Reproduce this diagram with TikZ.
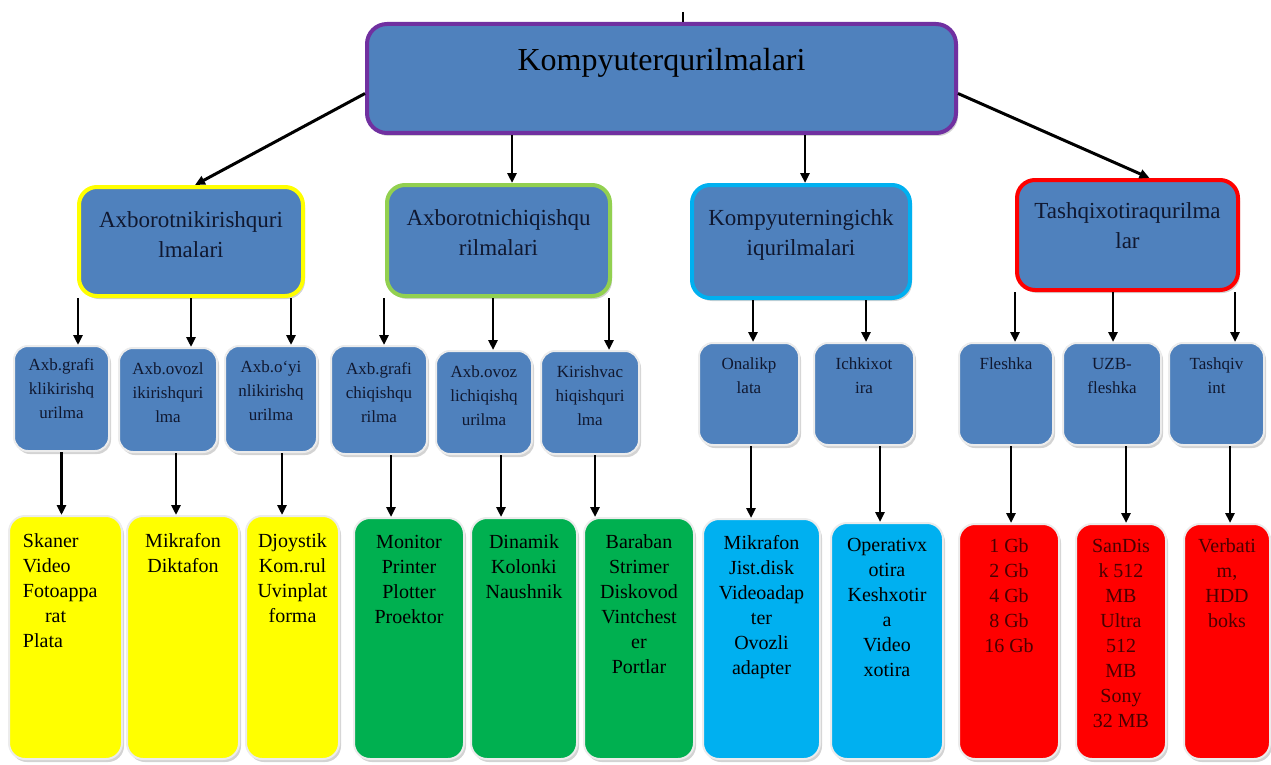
\documentclass[tikz,border=0pt]{standalone}
\usepackage{fontspec}
\setmainfont{Liberation Serif}
\usepackage{xcolor}
\usepackage{tikz}
\usetikzlibrary{positioning}
\usetikzlibrary{arrows.meta}
\usetikzlibrary{shadows}

\definecolor{boxblue}{HTML}{4F81BD}
\definecolor{rootpurple}{HTML}{7030A0}
\definecolor{inyellow}{HTML}{FFFF00}
\definecolor{outgreen}{HTML}{92D050}
\definecolor{devgreen}{HTML}{00B050}
\definecolor{memcyan}{HTML}{00B0F0}
\definecolor{extred}{HTML}{FF0000}
\definecolor{navytext}{HTML}{101830}
\definecolor{redtext}{HTML}{4A0000}

% box text: [alignment]{width}{height}{top gap}{lines}
\newcommand{\boxtext}[5][\centering]{\parbox[c][#3][t]{#2}{\vspace*{#4}#1\strut #5}}

\begin{document}
\begin{tikzpicture}[x=1pt,y=-1pt,
		shade/.style={drop shadow={shadow xshift=2pt,shadow yshift=-3pt,opacity=0.35}},
		rootbox/.style={draw=rootpurple, line width=4pt, fill=boxblue, rounded corners=20pt, inner sep=0pt, shade, text=black, font=\fontsize{32}{38}\selectfont},
		groupbox/.style={line width=4pt, fill=boxblue, rounded corners=18pt, inner sep=0pt, shade, text=navytext, font=\fontsize{23}{30}\selectfont},
		itembox/.style={draw=white!85!gray, line width=2pt, fill=boxblue, rounded corners=14pt, inner sep=0pt, shade, text=navytext, font=\fontsize{17}{24}\selectfont},
		leafbox/.style={draw=white!85!gray, line width=2pt, rounded corners=16pt, inner sep=0pt, shade, text=black, font=\fontsize{20}{25}\selectfont},
		arr/.style={-{Triangle[length=10pt,width=9pt]}, line width=2.5pt}]
		\useasboundingbox (0,0) rectangle (1271,765);

		% Root
		\node[rootbox] (R) at (661.5,78.5) {\boxtext{589pt}{109pt}{20pt}{Kompyuterqurilmalari}};
		\coordinate (tick) at (683,12);
		\draw[line width=2pt] (tick) -- (tick |- R.north);

		% Second level
		\node[groupbox, draw=inyellow] (A1) at (191,241.5) {\boxtext{224pt}{109pt}{19pt}{Axborotnikirishquri\\lmalari}};
		\node[groupbox, draw=outgreen] (A2) at (498.5,240.5) {\boxtext{223pt}{111pt}{19pt}{Axborotnichiqishqu\\rilmalari}};
		\node[groupbox, draw=memcyan] (A3) at (801,241.5) {\boxtext{218pt}{113pt}{19pt}{Kompyuterningichk\\iqurilmalari}};
		\node[groupbox, draw=extred] (A4) at (1127.5,235) {\boxtext{221pt}{110pt}{17pt}{Tashqixotiraqurilma\\lar}};

		\draw[arr, line width=3pt] ([yshift=-15pt]R.west) -- ([xshift=4pt]A1.north);
		\draw[arr, line width=3pt] ([yshift=-15pt]R.east) -- ([xshift=22pt]A4.north);
		\foreach \a/\dx in {A2/13.5, A3/4}
			\draw[arr] ([xshift=\dx pt]\a.north |- R.south) -- ([xshift=\dx pt]\a.north);

		% Third level
		\node[itembox] (B1) at (61.5,398.5) {\boxtext{95pt}{105pt}{8pt}{Axb.grafi\\klikirishq\\urilma}};
		\node[itembox] (B2) at (168,400) {\boxtext{98pt}{104pt}{10pt}{Axb.ovozl\\ikirishquri\\lma}};
		\node[itembox] (B3) at (271,399) {\boxtext{92pt}{106pt}{10pt}{Axb.o`yi\\nlikirishq\\urilma}};
		\node[itembox] (B4) at (379,400) {\boxtext{96pt}{108pt}{12pt}{Axb.grafi\\chiqishqu\\rilma}};
		\node[itembox] (B5) at (484,402.5) {\boxtext{96pt}{103pt}{10pt}{Axb.ovoz\\lichiqishq\\urilma}};
		\node[itembox] (B6) at (590,402.5) {\boxtext{98pt}{103pt}{10pt}{Kirishvac\\hiqishquri\\lma}};
		\node[itembox] (B7) at (749,394) {\boxtext{100pt}{102pt}{10pt}{Onalikp\\lata}};
		\node[itembox] (B8) at (864,394) {\boxtext{100pt}{102pt}{10pt}{Ichkixot\\ira}};
		\node[itembox] (B9) at (1006,394) {\boxtext{94pt}{102pt}{10pt}{Fleshka}};
		\node[itembox] (B10) at (1112,394) {\boxtext{98pt}{102pt}{10pt}{UZB-\\fleshka}};
		\node[itembox] (B11) at (1216.5,394) {\boxtext{95pt}{102pt}{10pt}{Tashqiv\\int}};

		\foreach \a/\b/\dx in {A1/B1/-113, A1/B2/0, A1/B3/100, A2/B4/-114.5, A2/B5/-5.5, A2/B6/110.5,
				A3/B7/-48, A3/B8/65, A4/B9/-112.5, A4/B10/-14.5, A4/B11/107.5}
			\draw[arr] ([xshift=\dx pt]\a.south) -- ([xshift=\dx pt]\a.south |- \b.north);

		% Fourth level
		\node[leafbox, fill=inyellow] (C1) at (65.5,637.5) {\boxtext[\raggedright\leftskip=14pt]{113pt}{243pt}{14pt}{Skaner\\Video\\Fotoappa\\\hspace*{22pt}rat\\Plata}};
		\node[leafbox, fill=inyellow] (C2) at (183,637.5) {\boxtext{112pt}{243pt}{14pt}{Mikrafon\\Diktafon}};
		\node[leafbox, fill=inyellow] (C3) at (292.5,637.5) {\boxtext{93pt}{243pt}{14pt}{Djoystik\\Kom.rul\\Uvinplat\\forma}};
		\node[leafbox, fill=devgreen] (C4) at (409,638.5) {\boxtext{110pt}{241pt}{13pt}{Monitor\\Printer\\Plotter\\Proektor}};
		\node[leafbox, fill=devgreen] (C5) at (524,638.5) {\boxtext{106pt}{241pt}{13pt}{Dinamik\\Kolonki\\Naushnik}};
		\node[leafbox, fill=devgreen] (C6) at (639,638.5) {\boxtext{110pt}{241pt}{13pt}{Baraban\\Strimer\\Diskovod\\Vintchest\\er\\Portlar}};
		\node[leafbox, fill=memcyan] (C7) at (761.5,639) {\boxtext{117pt}{240pt}{13pt}{Mikrafon\\Jist.disk\\Videoadap\\ter\\Ovozli\\adapter}};
		\node[leafbox, fill=memcyan] (C8) at (887,641) {\boxtext{112pt}{236pt}{11pt}{Operativx\\otira\\Keshxotir\\a\\Video\\xotira}};
		\node[leafbox, fill=extred, text=redtext] (C9) at (1009,641.5) {\boxtext{100pt}{235pt}{11pt}{1 Gb\\2 Gb\\4 Gb\\8 Gb\\16 Gb}};
		\node[leafbox, fill=extred, text=redtext] (C10) at (1121,641.5) {\boxtext{90pt}{235pt}{11pt}{SanDis\\k 512\\MB\\Ultra\\512\\MB\\Sony\\32 MB}};
		\node[leafbox, fill=extred, text=redtext] (C11) at (1227,641.5) {\boxtext{86pt}{235pt}{11pt}{Verbati\\m,\\HDD\\boks}};

		\foreach \b/\c/\dx in {B1/C1/0, B2/C2/8, B3/C3/11, B4/C4/12, B5/C5/17, B6/C6/5,
				B7/C7/2, B8/C8/16, B9/C9/5, B10/C10/14, B11/C11/13.5}
			\draw[arr] ([xshift=\dx pt]\b.south) -- ([xshift=\dx pt]\b.south |- \c.north);
\end{tikzpicture}
\end{document}
